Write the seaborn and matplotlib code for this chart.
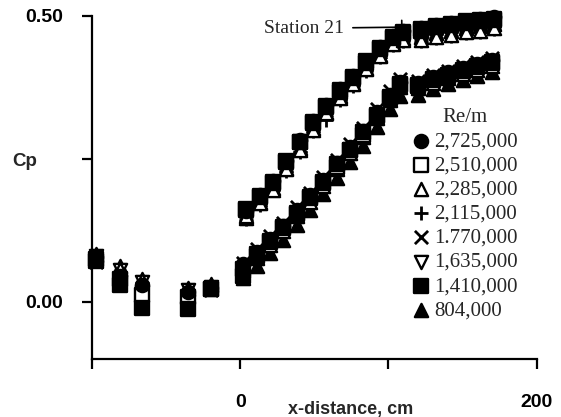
import matplotlib
matplotlib.use("Agg")
import matplotlib.pyplot as plt
import seaborn as sns
import pandas as pd

# x-stations (cm): upstream ports, upper row, lower row
x_left = [-97, -81, -66, -35, -20]
x_upper = [4, 13, 22, 31, 40, 49, 58, 67, 76, 85, 94, 103, 110, 122, 132, 142, 152, 162, 171]
x_lower = [2, 11, 20, 29, 38, 47, 56, 65, 74, 83, 92, 101, 108, 120, 130, 140, 150, 160, 170]
x_all = x_left + x_upper + x_lower

re_labels = ["2,725,000", "2,510,000", "2,285,000", "2,115,000",
             "1.770,000", "1,635,000", "1,410,000", "804,000"]

# Cp values (left ports + upper row + lower row)
cp_2725000 = ([0.078, 0.045, 0.030, 0.018, 0.025]
              + [0.158, 0.186, 0.212, 0.246, 0.282, 0.316, 0.344, 0.372, 0.395, 0.421,
                 0.445, 0.464, 0.474, 0.478, 0.483, 0.487, 0.491, 0.494, 0.497]
              + [0.066, 0.087, 0.110, 0.133, 0.160, 0.186, 0.213, 0.242, 0.270, 0.298,
                 0.331, 0.362, 0.384, 0.383, 0.393, 0.401, 0.409, 0.416, 0.423])
cp_2510000 = ([0.072, 0.040, 0.012, 0.008, 0.022]
              + [0.162, 0.183, 0.208, 0.244, 0.279, 0.312, 0.340, 0.367, 0.392, 0.418,
                 0.441, 0.461, 0.470, 0.474, 0.480, 0.484, 0.487, 0.490, 0.493]
              + [0.058, 0.083, 0.104, 0.129, 0.154, 0.181, 0.207, 0.236, 0.266, 0.292,
                 0.325, 0.356, 0.379, 0.377, 0.387, 0.395, 0.403, 0.410, 0.417])
cp_2285000 = ([0.082, 0.058, 0.038, 0.022, 0.030]
              + [0.150, 0.172, 0.196, 0.232, 0.266, 0.300, 0.330, 0.356, 0.380, 0.407,
                 0.430, 0.450, 0.458, 0.457, 0.463, 0.467, 0.471, 0.474, 0.478]
              + [0.055, 0.077, 0.100, 0.123, 0.150, 0.175, 0.203, 0.232, 0.260, 0.288,
                 0.321, 0.352, 0.375, 0.373, 0.383, 0.391, 0.399, 0.406, 0.413])
cp_2115000 = ([0.075, 0.050, 0.032, 0.015, 0.028]
              + [0.145, 0.170, 0.198, 0.228, 0.262, 0.298, 0.318, 0.353, 0.378, 0.404,
                 0.428, 0.448, 0.456, 0.455, 0.461, 0.465, 0.469, 0.472, 0.476]
              + [0.062, 0.084, 0.107, 0.130, 0.157, 0.182, 0.210, 0.239, 0.267, 0.295,
                 0.328, 0.359, 0.382, 0.380, 0.390, 0.398, 0.406, 0.413, 0.420])
cp_1770000 = ([0.070, 0.035, 0.025, 0.012, 0.020]
              + [0.152, 0.178, 0.204, 0.238, 0.273, 0.308, 0.336, 0.364, 0.388, 0.414,
                 0.437, 0.457, 0.466, 0.469, 0.476, 0.480, 0.484, 0.487, 0.490]
              + [0.068, 0.092, 0.115, 0.138, 0.166, 0.191, 0.219, 0.248, 0.276, 0.304,
                 0.337, 0.368, 0.390, 0.386, 0.396, 0.404, 0.412, 0.419, 0.426])
cp_1635000 = ([0.080, 0.055, 0.035, 0.020, 0.026]
              + [0.149, 0.176, 0.201, 0.236, 0.270, 0.306, 0.333, 0.360, 0.384, 0.411,
                 0.434, 0.454, 0.463, 0.466, 0.473, 0.477, 0.481, 0.484, 0.487]
              + [0.052, 0.074, 0.097, 0.120, 0.147, 0.172, 0.200, 0.229, 0.257, 0.285,
                 0.318, 0.349, 0.372, 0.370, 0.380, 0.388, 0.396, 0.403, 0.410])
cp_1410000 = ([0.074, 0.030, -0.010, -0.012, 0.022]
              + [0.160, 0.185, 0.210, 0.246, 0.280, 0.315, 0.342, 0.370, 0.393, 0.420,
                 0.443, 0.463, 0.471, 0.476, 0.482, 0.486, 0.490, 0.493, 0.495]
              + [0.045, 0.080, 0.106, 0.131, 0.156, 0.183, 0.209, 0.240, 0.266, 0.296,
                 0.327, 0.358, 0.381, 0.379, 0.389, 0.397, 0.405, 0.412, 0.419])
cp_804000 = ([0.083, 0.062, 0.040, 0.024, 0.032]
             + [0.147, 0.174, 0.199, 0.234, 0.269, 0.304, 0.331, 0.359, 0.382, 0.409,
                0.432, 0.452, 0.461, 0.462, 0.469, 0.474, 0.478, 0.482, 0.485]
             + [0.042, 0.062, 0.085, 0.108, 0.135, 0.160, 0.188, 0.217, 0.245, 0.273,
                0.306, 0.337, 0.360, 0.362, 0.372, 0.380, 0.388, 0.395, 0.402])

all_cp = [cp_2725000, cp_2510000, cp_2285000, cp_2115000,
          cp_1770000, cp_1635000, cp_1410000, cp_804000]

# marker, facecolor per series
styles = [("o", "k"), ("s", "white"), ("^", "white"), ("+", None),
          ("x", None), ("v", "white"), ("s", "k"), ("^", "k")]
draw_order = [7, 5, 4, 3, 2, 1, 6, 0]

sns.set_style("ticks")
plt.rcParams["font.family"] = ["Liberation Sans", "DejaVu Sans"]

fig = plt.figure(figsize=(5.61, 4.17), dpi=100)
ax = fig.add_axes([0.164, 0.139, 0.7927, 0.8233])

for i in draw_order:
    df = pd.DataFrame({"x": x_all, "cp": all_cp[i]})
    m, fc = styles[i]
    if fc is None:
        sns.scatterplot(data=df, x="x", y="cp", marker=m, s=90, color="k",
                        linewidth=2.0, ax=ax, label=re_labels[i], clip_on=False)
    else:
        sns.scatterplot(data=df, x="x", y="cp", marker=m, s=90, color="k",
                        facecolor=fc, edgecolor="k", linewidth=1.7, ax=ax,
                        label=re_labels[i], clip_on=False)

handles, labels = ax.get_legend_handles_labels()
lookup = dict(zip(labels, handles))
leg = ax.legend([lookup[l] for l in re_labels], re_labels, title="Re/m",
                loc="upper left", bbox_to_anchor=(412 / 561, 1 - 108 / 417),
                bbox_transform=fig.transFigure, frameon=False, borderpad=0,
                borderaxespad=0, handletextpad=0.15, handlelength=0.9,
                labelspacing=0.22, markerscale=1.0,
                prop={"family": "Liberation Serif", "size": 15},
                title_fontproperties={"family": "Liberation Serif", "size": 15})

ax.annotate("Station 21", xy=(109, 0.48), xytext=(70, 0.478),
            ha="right", va="center", family="Liberation Serif", fontsize=14,
            arrowprops=dict(arrowstyle="-[, widthB=0.35, lengthB=0.0",
                            lw=1.2, color="k", shrinkA=4, shrinkB=0))

ax.set_xlim(-100, 200)
ax.set_ylim(-0.1, 0.5)
ax.set_xticks([-100, 0, 100, 200])
ax.set_xticklabels(["", "0", "", "200"])
ax.set_yticks([0, 0.25, 0.5])
ax.set_yticklabels(["0.00", "", "0.50"])
ax.tick_params(axis="both", direction="out", length=7, width=1.6,
               labelsize=14, colors="k")
ax.tick_params(axis="x", pad=18)
ax.tick_params(axis="y", pad=14)
for lbl in ax.get_xticklabels() + ax.get_yticklabels():
    lbl.set_fontweight("bold")

ax.set_xlabel("x-distance, cm", fontsize=13, fontweight="bold", va="center")
ax.xaxis.set_label_coords(0.582, -0.148)
ax.set_ylabel("Cp", fontsize=13.5, fontweight="bold", rotation=0,
              ha="center", va="center")
ax.yaxis.set_label_coords(-0.151, 0.575)

sns.despine(ax=ax)
for sp in ["left", "bottom"]:
    ax.spines[sp].set_linewidth(1.6)
    ax.spines[sp].set_color("k")

fig.savefig("out.png", dpi=100)
